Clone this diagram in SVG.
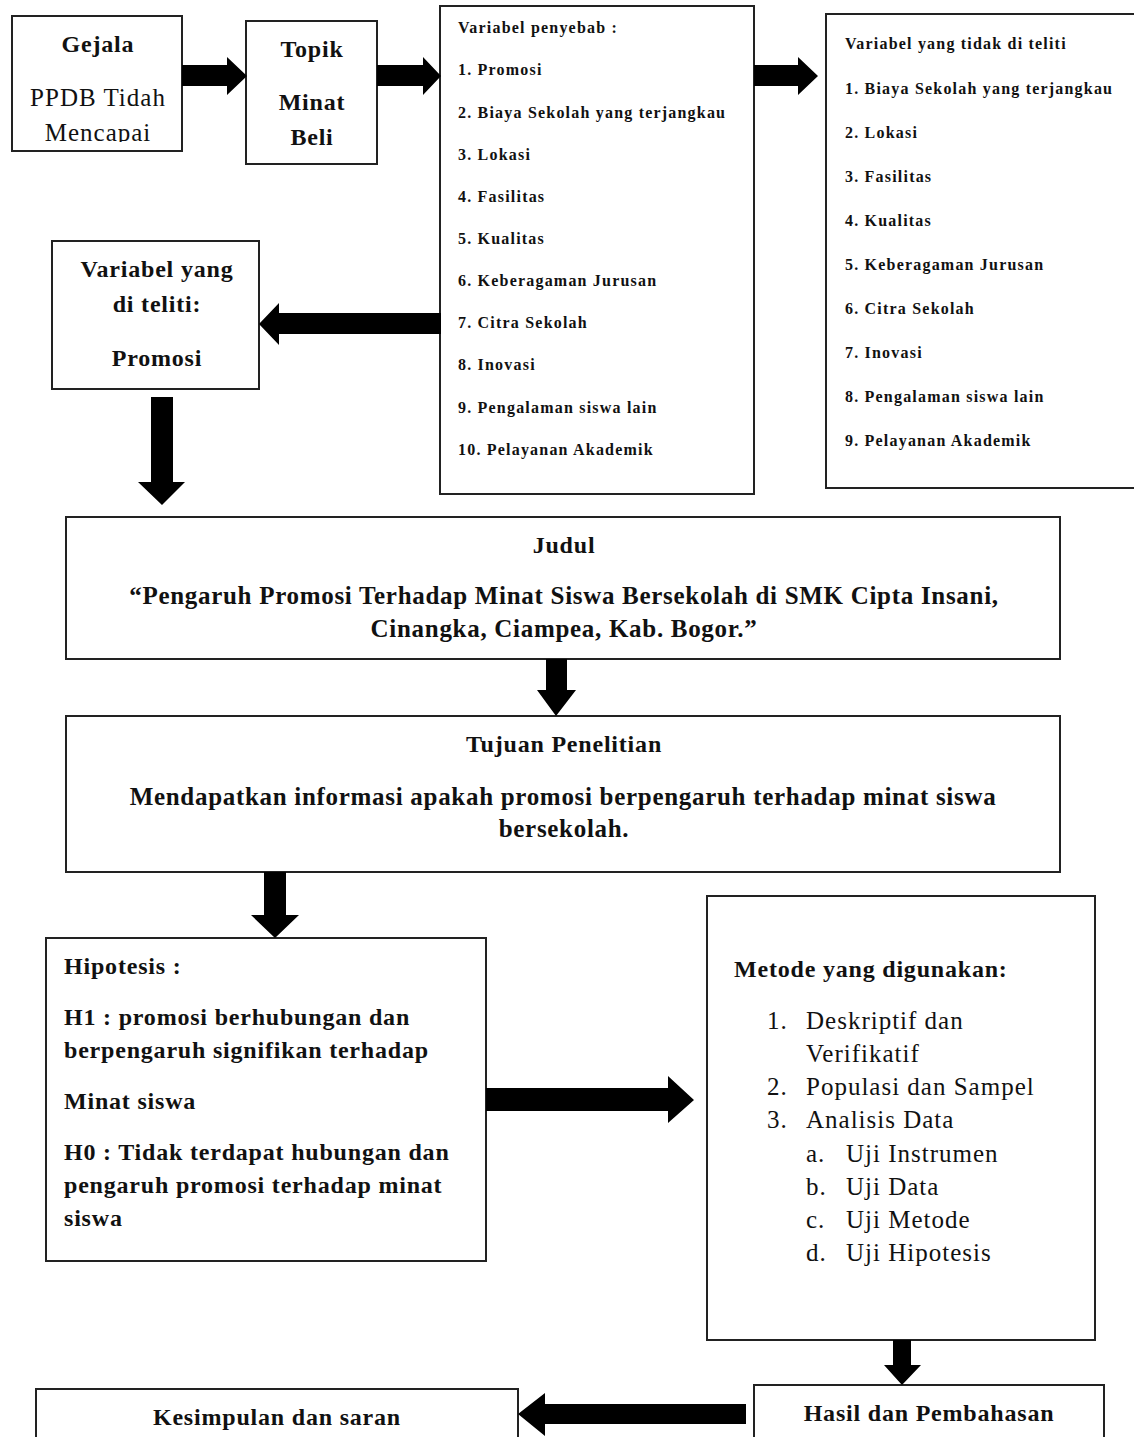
<svg xmlns="http://www.w3.org/2000/svg" width="1134" height="1437" viewBox="0 0 1134 1437">
<style>
.box{fill:#fff;stroke:#222;stroke-width:2}
.t{font-family:"Liberation Serif","Times New Roman",serif;fill:#111}
.b{font-weight:bold}
.c{text-anchor:middle}
.sm{font-size:16px;letter-spacing:1.2px}
.lg{font-size:24px;letter-spacing:0.8px}
.rg{font-size:25px;letter-spacing:1px}
.xl{font-size:25px;letter-spacing:0.7px}
.arrow{fill:#000}
</style>
<defs>
<clipPath id="clipG"><rect x="12" y="16" width="170" height="126"/></clipPath>
</defs>
<rect width="1134" height="1437" fill="#fff"/>
<g id="gejala">
<rect class="box" x="12" y="16" width="170" height="135"/>
<text class="t b c lg" x="98" y="52">Gejala</text>
<g clip-path="url(#clipG)">
<text class="t c rg" x="98" y="106">PPDB Tidah</text>
<text class="t c rg" x="98" y="141">Mencapai</text>
</g>
</g>
<g id="topik">
<rect class="box" x="246" y="21" width="131" height="143"/>
<text class="t b c lg" x="312" y="57">Topik</text>
<text class="t b c lg" x="312" y="110">Minat</text>
<text class="t b c lg" x="312" y="145">Beli</text>
</g>
<g id="penyebab">
<rect class="box" x="440" y="6" width="314" height="488"/>
<g class="t b sm">
<text x="458" y="33">Variabel penyebab :</text>
<text x="458" y="75">1. Promosi</text>
<text x="458" y="118">2. Biaya Sekolah yang terjangkau</text>
<text x="458" y="160">3. Lokasi</text>
<text x="458" y="202">4. Fasilitas</text>
<text x="458" y="244">5. Kualitas</text>
<text x="458" y="286">6. Keberagaman Jurusan</text>
<text x="458" y="328">7. Citra Sekolah</text>
<text x="458" y="370">8. Inovasi</text>
<text x="458" y="413">9. Pengalaman siswa lain</text>
<text x="458" y="455">10. Pelayanan Akademik</text>
</g>
</g>
<g id="tidak-diteliti">
<rect class="box" x="826" y="14" width="310" height="474"/>
<g class="t b sm">
<text x="845" y="49">Variabel yang tidak di teliti</text>
<text x="845" y="94">1. Biaya Sekolah yang terjangkau</text>
<text x="845" y="138">2. Lokasi</text>
<text x="845" y="182">3. Fasilitas</text>
<text x="845" y="226">4. Kualitas</text>
<text x="845" y="270">5. Keberagaman Jurusan</text>
<text x="845" y="314">6. Citra Sekolah</text>
<text x="845" y="358">7. Inovasi</text>
<text x="845" y="402">8. Pengalaman siswa lain</text>
<text x="845" y="446">9. Pelayanan Akademik</text>
</g>
</g>
<g id="diteliti">
<rect class="box" x="52" y="241" width="207" height="148"/>
<text class="t b c lg" x="157" y="277">Variabel yang</text>
<text class="t b c lg" x="157" y="312">di teliti:</text>
<text class="t b c lg" x="157" y="366">Promosi</text>
</g>
<g id="judul">
<rect class="box" x="66" y="517" width="994" height="142"/>
<text class="t b c lg" x="564" y="553">Judul</text>
<text class="t b c xl" x="564" y="604">“Pengaruh  Promosi Terhadap Minat Siswa Bersekolah di SMK Cipta Insani,</text>
<text class="t b c xl" x="564" y="637">Cinangka, Ciampea, Kab. Bogor.”</text>
</g>
<g id="tujuan">
<rect class="box" x="66" y="716" width="994" height="156"/>
<text class="t b c lg" x="564" y="752">Tujuan Penelitian</text>
<text class="t b c xl" x="563" y="805">Mendapatkan informasi apakah promosi berpengaruh terhadap minat siswa</text>
<text class="t b c xl" x="564" y="837">bersekolah.</text>
</g>
<g id="hipotesis">
<rect class="box" x="46" y="938" width="440" height="323"/>
<g class="t b lg">
<text x="64" y="974">Hipotesis :</text>
<text x="64" y="1025">H1 : promosi berhubungan dan</text>
<text x="64" y="1058">berpengaruh signifikan terhadap</text>
<text x="64" y="1109">Minat siswa</text>
<text x="64" y="1160">H0 : Tidak terdapat hubungan dan</text>
<text x="64" y="1193">pengaruh promosi terhadap minat</text>
<text x="64" y="1226">siswa</text>
</g>
</g>
<g id="metode">
<rect class="box" x="707" y="896" width="388" height="444"/>
<text class="t b lg" x="734" y="977">Metode yang digunakan:</text>
<g class="t rg">
<text x="767" y="1029">1.</text><text x="806" y="1029">Deskriptif dan</text>
<text x="806" y="1062">Verifikatif</text>
<text x="767" y="1095">2.</text><text x="806" y="1095">Populasi dan Sampel</text>
<text x="767" y="1128">3.</text><text x="806" y="1128">Analisis Data</text>
<text x="806" y="1162">a.</text><text x="846" y="1162">Uji Instrumen</text>
<text x="806" y="1195">b.</text><text x="846" y="1195">Uji Data</text>
<text x="806" y="1228">c.</text><text x="846" y="1228">Uji Metode</text>
<text x="806" y="1261">d.</text><text x="846" y="1261">Uji Hipotesis</text>
</g>
</g>
<g id="hasil">
<rect class="box" x="754" y="1385" width="350" height="60"/>
<text class="t b c lg" x="929" y="1421">Hasil dan Pembahasan</text>
</g>
<g id="kesimpulan">
<rect class="box" x="36" y="1389" width="482" height="60"/>
<text class="t b c lg" x="277" y="1425">Kesimpulan dan saran</text>
</g>
<g id="connectors" class="arrow">
<polygon points="182,65 227,65 227,57 247,76 227,95 227,86 182,86"/>
<polygon points="377,65 423,65 423,57 441,76 423,95 423,86 377,86"/>
<polygon points="754,65 798,65 798,57 818,76 798,95 798,86 754,86"/>
<polygon points="441,313 279,313 279,303 259,324 279,345 279,334 441,334"/>
<polygon points="151,397 173,397 173,482 185,482 162,505 138,482 151,482"/>
<polygon points="546,659 567,659 567,690 576,690 556,716 537,690 546,690"/>
<polygon points="264,872 286,872 286,915 299,915 275,938 251,915 264,915"/>
<polygon points="486,1088 668,1088 668,1076 694,1100 668,1123 668,1111 486,1111"/>
<polygon points="893,1340 911,1340 911,1365 921,1365 902,1385 884,1365 893,1365"/>
<polygon points="746,1404 545,1404 545,1393 518,1414 545,1436 545,1424 746,1424"/>
</g>
</svg>
